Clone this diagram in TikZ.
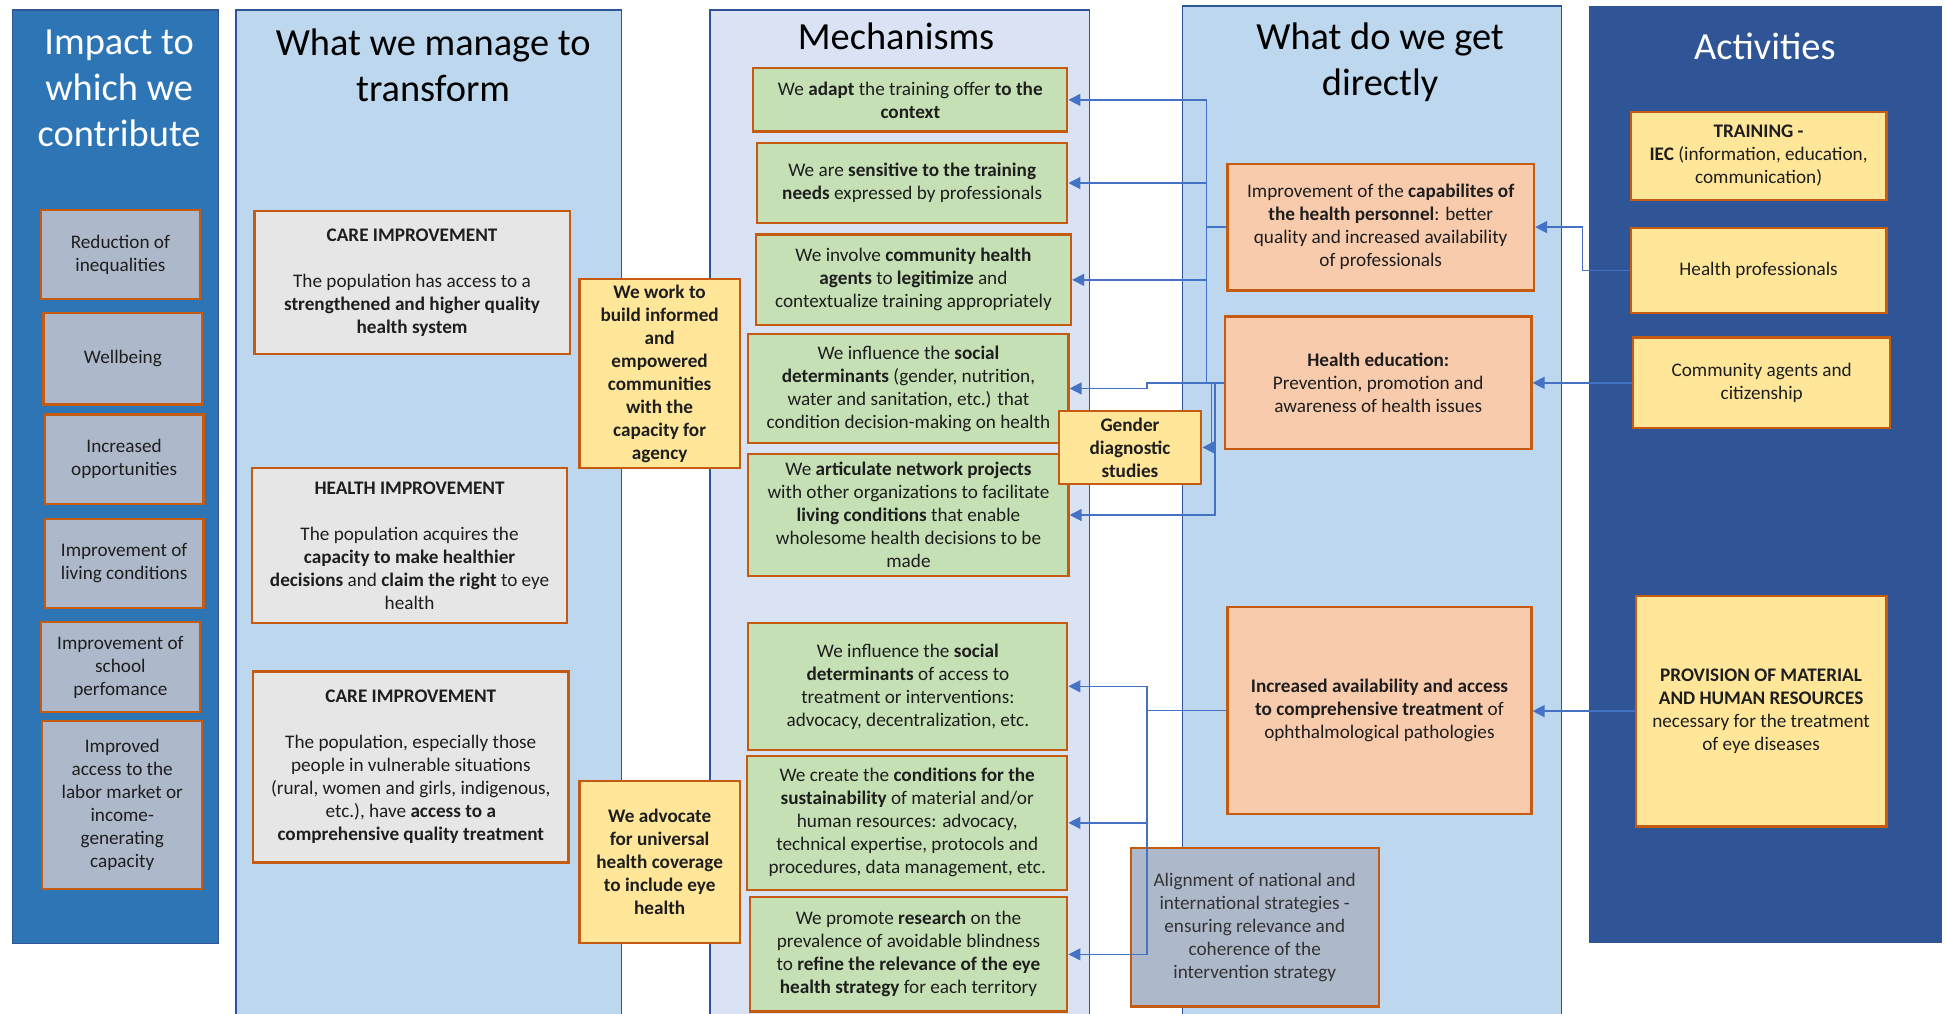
\documentclass[tikz,border=0pt]{standalone}
\usepackage{fontspec}
\setmainfont{Carlito}
\usetikzlibrary{arrows.meta}
\newcommand{\uu}{0.6205pt}
\definecolor{colimpact}{HTML}{2E75B6}
\definecolor{collight}{HTML}{BDD7EE}
\definecolor{colmech}{HTML}{DAE3F3}
\definecolor{colact}{HTML}{2F5597}
\definecolor{edgeblue}{HTML}{2F5597}
\definecolor{bord}{HTML}{C55A11}
\definecolor{fillgrayblue}{HTML}{ADB9CA}
\definecolor{filllgray}{HTML}{E7E6E6}
\definecolor{fillgreen}{HTML}{C5E0B4}
\definecolor{fillpeach}{HTML}{F8CBAD}
\definecolor{fillyellow}{HTML}{FFE699}
\definecolor{arrowblue}{HTML}{4472C4}
\definecolor{txt}{HTML}{1E1E1E}
\begin{document}
\begin{tikzpicture}[x=\uu, y=-\uu,
  corners/.style n args={4}{minimum width={(#3-#1)*0.6205pt}, minimum height={(#4-#2)*0.6205pt}, at={({(#1+#3)/2},{(#2+#4)/2})}},
  box/.style={draw=bord, line width=1.1pt, inner sep=1pt, align=center, text=txt, font=\fontsize{9.6}{11.5}\selectfont},
  gbox/.style={box, fill=fillgrayblue},
  cbox/.style={box, fill=filllgray},
  ybox/.style={box, fill=fillyellow},
  grbox/.style={box, fill=fillgreen},
  pbox/.style={box, fill=fillpeach},
  coltitle/.style={align=center, inner sep=0pt, font=\fontsize{19.2}{23}\selectfont},
  conn/.style={draw=arrowblue, line width=0.7pt},
  arr/.style={conn, -{Triangle[length=6pt,width=6pt]}}
]
\useasboundingbox (0,0) rectangle (1568,817);
\clip (0,0) rectangle (1568,817);
% columns
\filldraw[fill=colimpact, draw=edgeblue, line width=0.6pt] (10,8) rectangle (176,760);
\filldraw[fill=collight, draw=edgeblue, line width=0.7pt] (190,8) rectangle (501,840);
\filldraw[fill=colmech, draw=edgeblue, line width=0.7pt] (572,8) rectangle (878,840);
\filldraw[fill=collight, draw=edgeblue, line width=0.7pt] (953,5) rectangle (1258,840);
\fill[colact] (1280,5) rectangle (1565,760);
% titles
\node[coltitle, text=white] (t1) at (96,71) {Impact to\\which we\\contribute};
\node[coltitle, text=black] (t2) at (349,53) {What we manage to\\transform};
\node[coltitle, text=black] (t3) at (722,29) {Mechanisms};
\node[coltitle, text=black] (t4) at (1112,50) {What do we get\\directly};
\node[coltitle, text=white] (t5) at (1422,37) {Activities};
% impact boxes
\node[gbox, corners={33}{169}{161}{241}] (i1) {Reduction of\\inequalities};
\node[gbox, corners={35}{252}{163}{326}] (i2) {Wellbeing};
\node[gbox, corners={36}{334}{164}{406}] (i3) {Increased\\opportunities};
\node[gbox, corners={36}{418}{164}{490}] (i4) {Improvement of\\living conditions};
\node[gbox, corners={33}{501}{161}{574}] (i5) {Improvement of\\school\\perfomance};
\node[gbox, corners={34}{581}{163}{716}] (i6) {Improved\\access to the\\labor market or\\income-\\generating\\capacity};
% transform boxes
\node[cbox, corners={205}{170}{459}{285}] (c1) {\textbf{CARE IMPROVEMENT}\\[11.5pt]The population has access to a\\\textbf{strengthened and higher quality}\\\textbf{health system}};
\node[cbox, corners={203}{377}{457}{502}] (c2) {\textbf{HEALTH IMPROVEMENT}\\[11.5pt]The population acquires the\\\textbf{capacity to make healthier}\\\textbf{decisions} and \textbf{claim the right} to eye\\health};
\node[cbox, corners={204}{541}{458}{695}] (c3) {\textbf{CARE IMPROVEMENT}\\[11.5pt]The population, especially those\\people in vulnerable situations\\(rural, women and girls, indigenous,\\etc.), have \textbf{access to a}\\\textbf{comprehensive quality treatment}};
% mechanisms
\node[grbox, corners={607}{55}{860}{106}] (g1) {We \textbf{adapt} the training offer \textbf{to the}\\\textbf{context}};
\node[grbox, corners={610}{115}{860}{180}] (g2) {We are \textbf{sensitive to the training}\\\textbf{needs} expressed by professionals};
\node[grbox, corners={609}{189}{863}{262}] (g3) {We involve \textbf{community health}\\\textbf{agents} to \textbf{legitimize} and\\contextualize training appropriately};
\node[grbox, corners={603}{269}{861}{357}] (g4) {We influence the \textbf{social}\\\textbf{determinants} (gender, nutrition,\\water and sanitation, etc.) that\\condition decision-making on health};
\node[grbox, corners={603}{366}{861}{464}] (g5) {We \textbf{articulate network projects}\\with other organizations to facilitate\\\textbf{living conditions} that enable\\wholesome health decisions to be\\made};
\node[grbox, corners={603}{502}{860}{604}] (g6) {We influence the \textbf{social}\\\textbf{determinants} of access to\\treatment or interventions:\\advocacy, decentralization, etc.};
\node[grbox, corners={602}{609}{860}{717}] (g7) {We create the \textbf{conditions for the}\\\textbf{sustainability} of material and/or\\human resources: advocacy,\\technical expertise, protocols and\\procedures, data management, etc.};
\node[grbox, corners={604}{723}{860}{815}] (g8) {We promote \textbf{research} on the\\prevalence of avoidable blindness\\to \textbf{refine the relevance of the eye}\\\textbf{health strategy} for each territory};
% yellow bridging boxes
\node[ybox, corners={467}{225}{596}{377}] (y1) {\textbf{We work to}\\\textbf{build informed}\\\textbf{and}\\\textbf{empowered}\\\textbf{communities}\\\textbf{with the}\\\textbf{capacity for}\\\textbf{agency}};
\node[ybox, corners={467}{629}{596}{760}] (y2) {\textbf{We advocate}\\\textbf{for universal}\\\textbf{health coverage}\\\textbf{to include eye}\\\textbf{health}};
\node[ybox, corners={853}{331}{968}{390}] (gen) {\textbf{Gender}\\\textbf{diagnostic}\\\textbf{studies}};
% outputs
\node[pbox, corners={989}{132}{1236}{234}] (o1) {Improvement of the \textbf{capabilites of}\\\textbf{the health personnel}: better\\quality and increased availability\\of professionals};
\node[pbox, corners={987}{255}{1234}{362}] (o2) {\textbf{Health education:}\\Prevention, promotion and\\awareness of health issues};
\node[pbox, corners={989}{489}{1234}{656}] (o3) {\textbf{Increased availability and access}\\\textbf{to comprehensive treatment} of\\ophthalmological pathologies};
\node[gbox, corners={911}{683}{1111}{811}, text=black!80] (al) {Alignment of national and\\international strategies -\\ensuring relevance and\\coherence of the\\intervention strategy};
% activities
\node[ybox, corners={1314}{90}{1520}{161}] (a1) {\textbf{TRAINING -}\\\textbf{IEC} (information, education,\\communication)};
\node[ybox, corners={1314}{184}{1520}{252}] (a2) {Health professionals};
\node[ybox, corners={1316}{272}{1523}{345}] (a3) {Community agents and\\citizenship};
\node[ybox, corners={1318}{480}{1520}{666}] (a4) {\textbf{PROVISION OF MATERIAL}\\\textbf{AND HUMAN RESOURCES}\\necessary for the treatment\\of eye diseases};
% connectors
\draw[arr] (a2.west) -- ++(-38,0) |- (o1.east);
\draw[arr] (a3.west) -- (a3.west -| o2.east);
\draw[arr] (a4.west) -- (a4.west -| o3.east);
\draw[conn] (o1.west) -- ++(-16,0) |- (o2.west);
\draw[arr] (o1.west) -- ++(-16,0) |- (g1.east);
\draw[arr] (o1.west) -- ++(-16,0) |- (g2.east);
\draw[arr] (o1.west) -- ++(-16,0) |- (g3.east);
\draw[arr] (o2.west) -- ++(-62,0) |- (g4.east);
\draw[arr] (o2.west) -- ++(-10,0) |- (gen.east);
\draw[arr] (o2.west) -- ++(-7,0) |- (g5.east);
\draw[arr] (o3.west) -- ++(-64,0) |- (g6.east);
\draw[arr] (o3.west) -- ++(-64,0) |- (g7.east);
\draw[arr] (o3.west) -- ++(-64,0) |- (g8.east);
\end{tikzpicture}
\end{document}
